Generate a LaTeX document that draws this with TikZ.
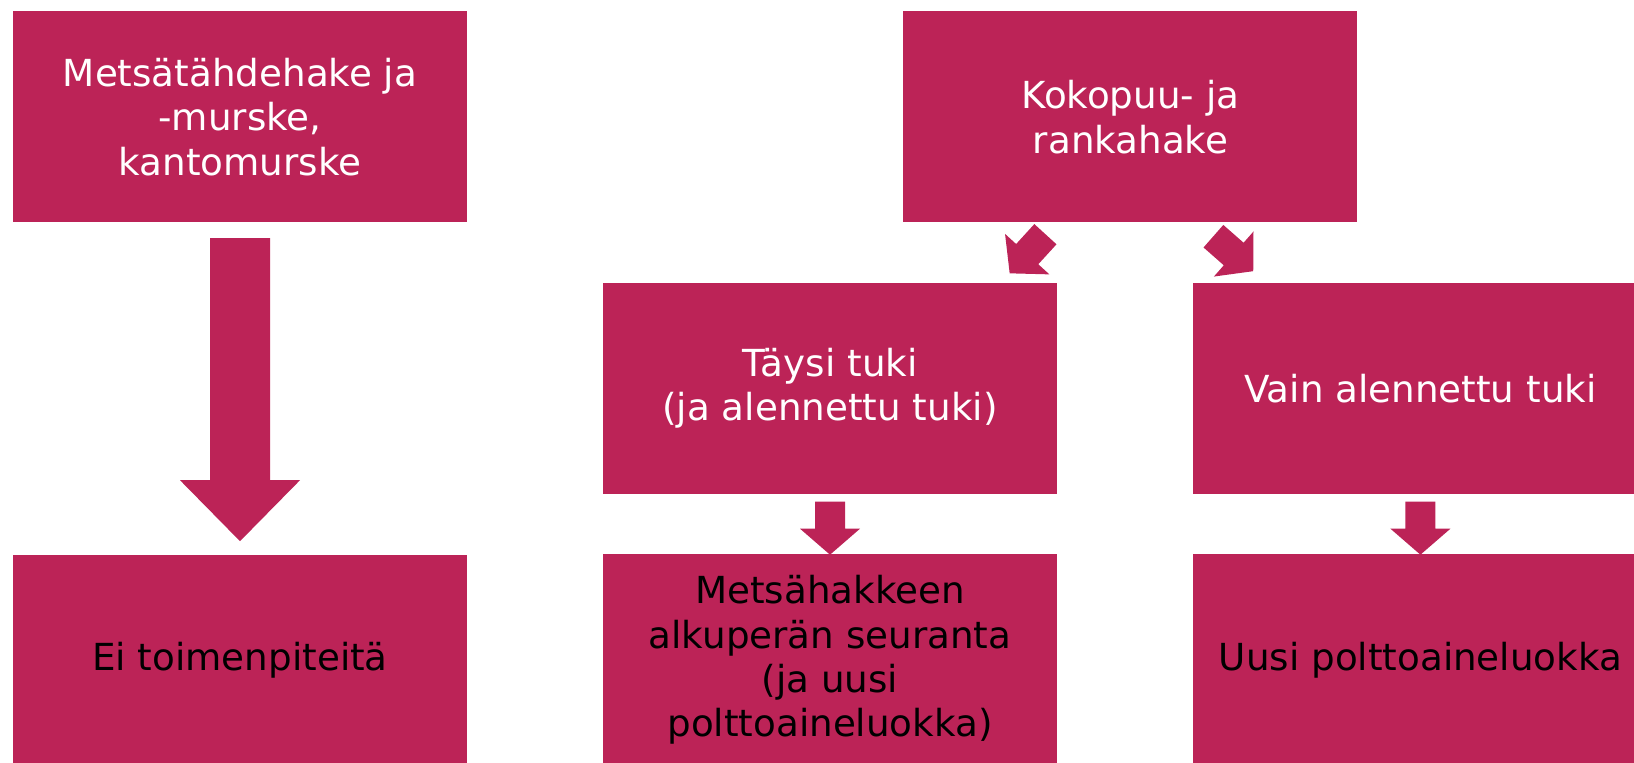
\documentclass[tikz,border=0pt]{standalone}
\usepackage{fontspec}
\setmainfont{DejaVu Sans}
\usetikzlibrary{positioning}
\definecolor{plum}{RGB}{188,35,87}
\tikzset{
	box/.style={fill=plum,minimum width=4.54cm,minimum height=2.11cm,inner sep=0pt,
		align=center,text=white,font=\fontsize{10.6}{12.6}\selectfont},
	lower/.style={box,text=black},
	pics/blockarr/.style n args={4}{code={
		\fill[plum] (0,-#3)--(#1,-#3)--(#1,-#4)--({#1+#2},0)--(#1,#4)--(#1,#3)--(0,#3)--cycle;
	}}
}
\begin{document}
\begin{tikzpicture}
	\useasboundingbox (0,0) rectangle (16.34,7.62);
	\clip (0,0) rectangle (16.34,7.62);
	\node[box] (mh) at (2.40,6.45) {Metsätähdehake ja\\-murske,\\kantomurske};
	\node[box,right=4.35cm of mh] (kp) {Kokopuu- ja\\rankahake};
	\node[box] (tt) at (8.30,3.735) {Täysi tuki\\(ja alennettu tuki)};
	\node[box,right=1.35cm of tt] (va) {Vain alennettu tuki};
	\node[lower,below=3.31cm of mh] (ei) {Ei toimenpiteitä};
	\node[lower,below=0.59cm of tt] (ms) {Metsähakkeen\\alkuperän seuranta\\(ja uusi\\polttoaineluokka)};
	\node[lower,below=0.59cm of va] (up) {Uusi polttoaineluokka};
	% arrows
	\pic[rotate=-90] at ([yshift=-0.15cm]mh.south) {blockarr={2.42}{0.61}{0.30}{0.60}};
	\pic[rotate=227.6] at ([xshift=-0.85cm,yshift=-0.11cm]kp.south) {blockarr={0.27}{0.26}{0.15}{0.30}};
	\pic[rotate=-41.3] at ([xshift=0.83cm,yshift=-0.13cm]kp.south) {blockarr={0.27}{0.26}{0.15}{0.30}};
	\foreach \x in {tt,va}{
		\pic[rotate=-90] at ([yshift=-0.07cm]\x.south) {blockarr={0.27}{0.26}{0.15}{0.30}};
	}
\end{tikzpicture}
\end{document}
